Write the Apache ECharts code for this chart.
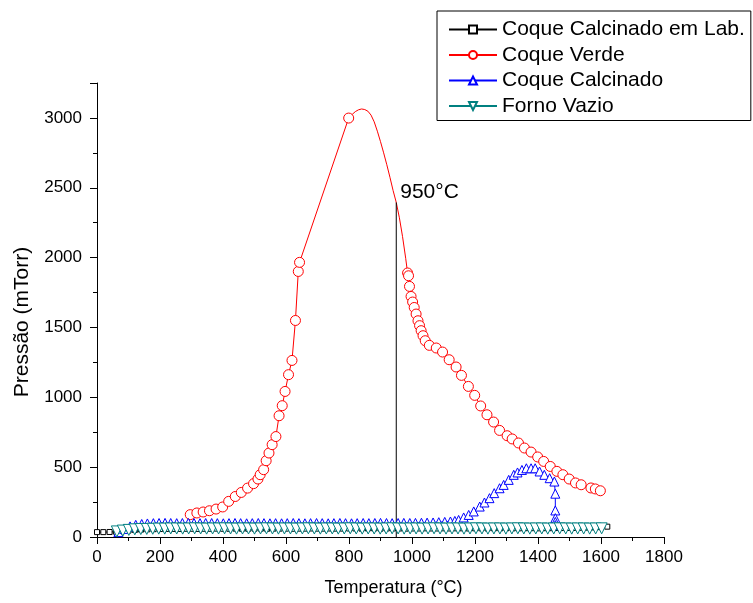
<!DOCTYPE html>
<html>
<head>
<meta charset="utf-8">
<script src="https://cdn.jsdelivr.net/npm/echarts@6/dist/echarts.min.js"></script>
<style>
html,body{margin:0;padding:0;background:#fff;}
#chart{width:753px;height:603px;}
</style>
</head>
<body>
<div id="chart"></div>
<script>
// ---- data (temperature in °C, pressure in mTorr) ----
const seriesNames = ['Coque Calcinado em Lab.', 'Coque Verde', 'Coque Calcinado', 'Forno Vazio'];

const labT = [0,20,40,60,80,100,120,140,160,180,200,220,240,260,280,300,320,340,360,380,400,420,440,460,480,500,520,540,560,580,600,620,640,660,680,700,720,740,760,780,800,820,840,860,880,900,920,940,960,980,1000,1020,1040,1060,1080,1100,1120,1140,1160,1180,1200,1220,1240,1260,1280,1300,1320,1340,1360,1380,1400,1420,1440,1460,1480,1500,1520,1540,1560,1580,1600,1620];
const labP = [35,35,36,38,42,46,50,53,55,56,57,58,58,58,59,59,58,59,59,60,59,59,60,59,59,60,60,59,60,60,60,59,60,60,61,60,60,61,60,60,61,61,60,61,61,60,61,61,61,60,61,61,62,61,61,62,61,62,62,61,62,62,61,62,62,63,62,62,63,63,62,63,63,64,64,65,65,66,67,68,70,74];

const verdeRiseT = [296,317,337,357,378,399,418,439,458,478,497,511,518,529,537,546,556,568,578,588,597,608,619,630,639,643,799];
const verdeRiseP = [160,172,179,188,200,215,255,290,319,350,382,415,446,482,546,601,661,719,868,940,1042,1162,1264,1550,1901,1966,2999];
const verdePeakT = [810,820,830,840,850,860,870,880,890,900,910,920,930,940,950,960,970,980];
const verdePeakP = [3025,3045,3058,3064,3060,3048,3020,2972,2905,2830,2750,2665,2575,2480,2395,2285,2150,1995];
const verdeFallT = [986,989,992,997,1002,1007,1013,1019,1024,1029,1035,1042,1055,1077,1097,1118,1140,1157,1179,1199,1218,1238,1259,1278,1302,1318,1338,1357,1378,1399,1418,1439,1460,1479,1499,1519,1537,1568,1582,1598];
const verdeFallP = [1890,1870,1794,1722,1682,1643,1596,1548,1513,1477,1441,1405,1372,1353,1324,1269,1217,1157,1078,1014,938,875,823,763,725,702,673,637,608,573,541,505,470,446,415,387,374,351,344,331];

const calcT = [68,86,105,123,142,160,179,197,216,234,253,271,290,308,327,345,364,382,401,419,438,456,475,493,512,530,549,567,586,604,623,641,660,678,697,715,734,752,771,789,808,826,845,863,882,900,919,937,956,974,993,1011,1030,1048,1067,1085,1104,1122,1136,1148,1164,1180,1196,1215,1230,1246,1261,1278,1291,1307,1323,1335,1349,1363,1378,1391,1405,1420,1437,1452,1455,1455,1455,1455,1455];
const calcP = [35,58,76,87,93,97,99,100,101,100,99,100,101,100,99,100,100,99,98,99,100,99,98,99,100,99,98,99,98,99,100,99,98,99,100,99,98,99,100,99,98,99,100,99,100,101,100,99,100,101,100,101,102,103,104,106,108,111,115,122,140,158,183,218,247,278,314,349,373,409,445,462,480,492,492,492,469,445,421,397,310,190,135,108,85];

const fornoT = [63,82,101,120,139,158,177,196,215,234,253,272,291,310,329,348,367,386,405,424,443,462,481,500,519,538,557,576,595,614,633,652,671,690,709,728,747,766,785,804,823,842,861,880,899,918,937,956,975,994,1013,1032,1051,1070,1089,1108,1127,1146,1165,1184,1203,1222,1241,1260,1279,1298,1317,1336,1355,1374,1393,1412,1431,1450,1469,1488,1507,1526,1545,1564,1583,1602];
const fornoP = [40,46,51,55,57,58,59,60,60,61,61,60,61,62,61,60,61,61,62,61,60,61,61,60,61,62,61,60,61,61,60,61,62,61,60,61,61,60,61,62,61,60,61,61,60,61,62,61,60,61,61,60,61,62,61,60,61,61,60,61,62,61,60,61,61,60,61,62,61,60,61,61,60,61,62,61,60,61,61,60,61,62];

const markT = 950;
const markP = [0, 2395];
const markLabel = '950°C';

const xAxisTitle = 'Temperatura (°C)';
const yAxisTitle = 'Pressão (mTorr)';

// ---- build ----
const zip = (a, b) => a.map((v, i) => [v, b[i]]);
const verdeData = []
  .concat(zip(verdeRiseT, verdeRiseP))
  .concat(zip(verdePeakT, verdePeakP).map(p => ({ value: p, symbol: 'none' })))
  .concat(zip(verdeFallT, verdeFallP));

const FONT = '"Liberation Sans", Arial, sans-serif';
const chart = echarts.init(document.getElementById('chart'), null, { renderer: 'canvas' });

const sym = (color, symbol, size, rotate) => ({
  type: 'line',
  symbol: symbol,
  symbolSize: size,
  symbolRotate: rotate || 0,
  showAllSymbol: true,
  color: color,
  lineStyle: { color: color, width: 1 },
  itemStyle: { color: '#fff', borderColor: color, borderWidth: 1 },
  emphasis: { disabled: true },
  animation: false
});

chart.setOption({
  animation: false,
  backgroundColor: '#fff',
  textStyle: { fontFamily: FONT, color: '#000' },
  grid: { left: 97, top: 83, width: 567, height: 454 },
  legend: {
    data: seriesNames,
    orient: 'vertical',
    left: 437,
    top: 11,
    width: 316,
    padding: [8, 6, 4, 11],
    itemGap: 4.5,
    itemWidth: 48,
    itemHeight: 10,
    borderColor: '#000',
    borderWidth: 1,
    borderRadius: 0,
    textStyle: { fontFamily: FONT, fontSize: 21, color: '#000' },
    selectedMode: false
  },
  xAxis: {
    type: 'value', min: 0, max: 1800, interval: 200,
    name: xAxisTitle, nameLocation: 'middle', nameGap: 42,
    nameTextStyle: { fontFamily: FONT, fontSize: 18, color: '#000', padding: [0, 0, 0, 26] },
    axisLine: { show: true, onZero: false, lineStyle: { color: '#000', width: 1 } },
    axisTick: { show: true, inside: false, length: 7, lineStyle: { color: '#000' } },
    minorTick: { show: true, splitNumber: 2, length: 4, lineStyle: { color: '#000' } },
    axisLabel: { fontFamily: FONT, fontSize: 17, color: '#000', margin: 12, formatter: v => String(v) },
    splitLine: { show: false }
  },
  yAxis: {
    type: 'value', min: 0, max: 3250, interval: 500,
    name: yAxisTitle, nameLocation: 'middle', nameGap: 64,
    nameTextStyle: { fontFamily: FONT, fontSize: 21, color: '#000', padding: [0, 24, 0, 0] },
    axisLine: { show: true, onZero: false, lineStyle: { color: '#000', width: 1 } },
    axisTick: { show: true, inside: false, length: 7, lineStyle: { color: '#000' } },
    minorTick: { show: true, splitNumber: 2, length: 4, lineStyle: { color: '#000' } },
    axisLabel: {
      fontFamily: FONT, fontSize: 17, color: '#000', margin: 15,
      formatter: v => (v % 500 === 0 ? String(v) : '')
    },
    splitLine: { show: false }
  },
  series: [
    Object.assign(sym('#000000', 'rect', 5), { name: seriesNames[0], data: zip(labT, labP), z: 2 }),
    Object.assign(sym('#ff0000', 'circle', 10), { name: seriesNames[1], data: verdeData, z: 3 }),
    {
      name: 'marker950', type: 'line', data: [[markT, markP[0]], [markT, markP[1]]],
      symbol: 'none', color: '#000', lineStyle: { color: '#000', width: 1 }, z: 3,
      endLabel: { show: true, formatter: markLabel, fontFamily: FONT, fontSize: 21, color: '#000', distance: 4, offset: [0, -10] },
      emphasis: { disabled: true }, animation: false
    },
    Object.assign(sym('#0000ff', 'triangle', 9), { name: seriesNames[2], data: zip(calcT, calcP), z: 4 }),
    Object.assign(sym('#008080', 'triangle', 11, 180), { name: seriesNames[3], data: zip(fornoT, fornoP), z: 5 })
  ]
});
</script>
</body>
</html>
